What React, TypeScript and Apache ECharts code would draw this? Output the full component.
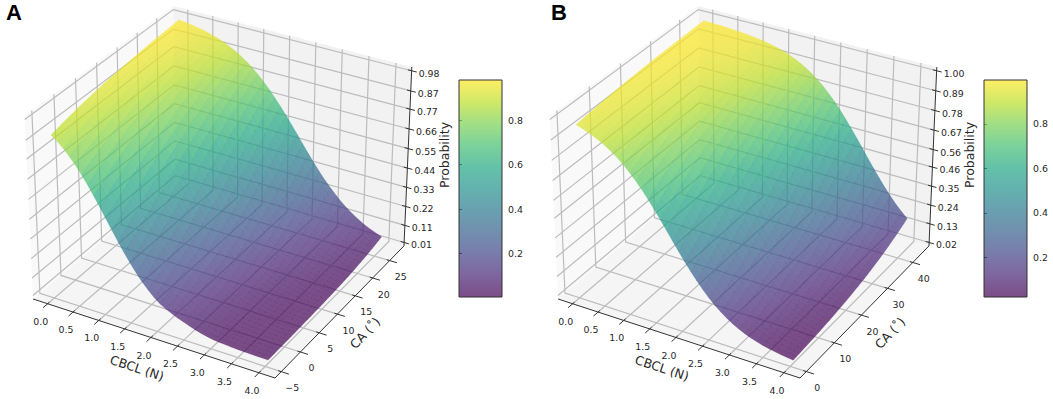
import React, { useEffect, useRef } from "react";
import * as echarts from "echarts";

const CBCL_TICKS = [0, 0.5, 1, 1.5, 2, 2.5, 3, 3.5, 4];
const CBCL_GRID = [0, 0.5, 1, 1.5, 2, 2.5, 3, 3.5, 4];

const CA_TICKS_A = [-5, 0, 5, 10, 15, 20, 25];
const CA_GRID_A = [-4.3, 0.9, 6.1, 11.4, 16.6, 21.8, 27];
const PROB_TICKS_A = ["0.01", "0.11", "0.22", "0.33", "0.44", "0.55", "0.66", "0.77", "0.87", "0.98"];
const PROB_A = [
  [0.881, 0.91, 0.933, 0.95, 0.963, 0.973, 0.98],
  [0.736, 0.797, 0.847, 0.886, 0.916, 0.939, 0.956],
  [0.512, 0.603, 0.686, 0.76, 0.82, 0.868, 0.905],
  [0.284, 0.37, 0.465, 0.562, 0.655, 0.738, 0.806],
  [0.13, 0.185, 0.256, 0.343, 0.442, 0.546, 0.646],
  [0.065, 0.09, 0.125, 0.175, 0.248, 0.339, 0.444],
  [0.024, 0.035, 0.051, 0.079, 0.121, 0.18, 0.259],
  [0.013, 0.016, 0.023, 0.034, 0.054, 0.086, 0.133],
  [0.01, 0.011, 0.013, 0.017, 0.024, 0.039, 0.063],
];

const CA_TICKS_B = [0, 10, 20, 30, 40];
const CA_GRID_B = [1, 8.1, 15.1, 22.2, 29.3, 36.3, 43.4];
const PROB_TICKS_B = ["0.02", "0.13", "0.24", "0.35", "0.46", "0.56", "0.67", "0.78", "0.89", "1.00"];
const PROB_B = [
  [0.953, 0.968, 0.979, 0.986, 0.991, 0.994, 0.996],
  [0.893, 0.927, 0.951, 0.967, 0.978, 0.985, 0.99],
  [0.777, 0.841, 0.889, 0.924, 0.949, 0.966, 0.977],
  [0.593, 0.688, 0.77, 0.835, 0.885, 0.921, 0.947],
  [0.378, 0.479, 0.582, 0.679, 0.763, 0.83, 0.881],
  [0.202, 0.277, 0.368, 0.469, 0.572, 0.67, 0.755],
  [0.095, 0.138, 0.195, 0.269, 0.358, 0.458, 0.562],
  [0.042, 0.063, 0.092, 0.133, 0.189, 0.261, 0.349],
  [0.018, 0.027, 0.04, 0.06, 0.088, 0.128, 0.182],
];

const COLORBAR_TICKS = [0.2, 0.4, 0.6, 0.8];
const VIRIDIS = ["#440154", "#482475", "#414487", "#355f8d", "#2a788e", "#21918c", "#22a884", "#44bf70", "#7ad151", "#bddf26", "#fde725"];

const FONT = '"DejaVu Sans"';
const TEXT = "#262626";
const ALPHA = 0.7;
const FACES = 36;
const TICK_SIZE = 9.4;

const PANELS = [
  {
    name: "A", dx: 0, caTicks: CA_TICKS_A, caGrid: CA_GRID_A, probTicks: PROB_TICKS_A, prob: PROB_A,
    caLim: [-6.6, 29.3], zLim: [-0.0102, 1.0002], cbar: [0.005, 0.98], cbarBox: { left: 459, top: 80, width: 43, height: 217 },
  },
  {
    name: "B", dx: 525, caTicks: CA_TICKS_B, caGrid: CA_GRID_B, probTicks: PROB_TICKS_B, prob: PROB_B,
    caLim: [-2.2, 46.6], zLim: [-0.0004, 1.0204], cbar: [0.022, 0.997], cbarBox: { left: 984, top: 80, width: 43, height: 217 },
  },
];
const X_LIM = [-0.29, 4.29];

// matplotlib's default 3D camera (elev 30, azim -60, dist 10, box aspect 4:4:3)
const EL = (30 * Math.PI) / 180;
const AZ = (-60 * Math.PI) / 180;
const D = [Math.cos(EL) * Math.cos(AZ), Math.cos(EL) * Math.sin(AZ), Math.sin(EL)];
const RN = Math.hypot(D[1], D[0]);
const RIGHT = [-D[1] / RN, D[0] / RN, 0];
const UP = [D[1] * RIGHT[2] - D[2] * RIGHT[1], D[2] * RIGHT[0] - D[0] * RIGHT[2], D[0] * RIGHT[1] - D[1] * RIGHT[0]];
const dot = (a: number[], b: number[]) => a[0] * b[0] + a[1] * b[1] + a[2] * b[2];
const SX = 2426, SY = 2438, OX = 221.8, OY = 183.4;
const BOX = [1.1429, 1.1429, 0.8571];

function project(dx: number, u: number, v: number, w: number) {
  const p = [(u - 0.5) * BOX[0], (v - 0.5) * BOX[1], (w - 0.5) * BOX[2]];
  const depth = 10 - dot(D, p);
  return [OX + dx + (SX * dot(RIGHT, p)) / depth, OY - (SY * dot(UP, p)) / depth];
}

const norm = (v: number, lim: number[]) => (v - lim[0]) / (lim[1] - lim[0]);
const logit = (p: number) => Math.log(p / (1 - p));
const logistic = (l: number) => 1 / (1 + Math.exp(-l));

function sample(table: number[][], fx: number, fy: number) {
  const i = Math.min(Math.floor(fx), table.length - 2);
  const j = Math.min(Math.floor(fy), table[0].length - 2);
  const a = fx - i, b = fy - j;
  const l = (1 - a) * ((1 - b) * logit(table[i][j]) + b * logit(table[i][j + 1])) +
    a * ((1 - b) * logit(table[i + 1][j]) + b * logit(table[i + 1][j + 1]));
  return logistic(l);
}

function rampRgb(t: number) {
  const c = Math.max(0, Math.min(1, t)) * (VIRIDIS.length - 1);
  const i = Math.min(Math.floor(c), VIRIDIS.length - 2);
  const f = c - i;
  const h = (s: string, k: number) => parseInt(s.slice(1 + 2 * k, 3 + 2 * k), 16);
  return [0, 1, 2].map((k) => Math.round(h(VIRIDIS[i], k) * (1 - f) + h(VIRIDIS[i + 1], k) * f));
}

function line(api: any, pts: number[][], stroke: string, lineWidth: number) {
  return { type: "polyline", shape: { points: pts.map((p) => api.coord(p)) }, style: { fill: "none", stroke, lineWidth }, silent: true };
}
function label(api: any, pos: number[], text: string, size: number, align = "center", rotation = 0) {
  const [x, y] = api.coord(pos);
  return {
    type: "text", x, y, rotation, silent: true,
    style: { text, fill: TEXT, font: `${size}px ${FONT}`, align, textAlign: align, verticalAlign: "middle", textVerticalAlign: "middle", textBaseline: "middle" },
  };
}

function frameSeries(panel: any) {
  const P = (u: number, v: number, w: number) => project(panel.dx, u, v, w);
  return {
    type: "custom", coordinateSystem: "cartesian2d", xAxisIndex: 0, yAxisIndex: 0, z: 1, silent: true, clip: false, data: [[0, 0]],
    renderItem: (_: any, api: any) => {
      const pane = (pts: number[][], fill: string) => ({ type: "polygon", shape: { points: pts.map((p) => api.coord(p)) }, style: { fill } });
      const children: any[] = [
        pane([P(0, 0, 0), P(1, 0, 0), P(1, 1, 0), P(0, 1, 0)], "#f5f5f5"),
        pane([P(0, 0, 0), P(0, 1, 0), P(0, 1, 1), P(0, 0, 1)], "#f9f9f9"),
        pane([P(0, 1, 0), P(1, 1, 0), P(1, 1, 1), P(0, 1, 1)], "#f2f2f2"),
      ];
      const GRID = "#bcbcbc";
      CBCL_TICKS.forEach((t) => {
        const u = norm(t, X_LIM);
        children.push(line(api, [P(u, 0, 0), P(u, 1, 0), P(u, 1, 1)], GRID, 1.2));
      });
      panel.caTicks.forEach((t: number) => {
        const v = norm(t, panel.caLim);
        children.push(line(api, [P(1, v, 0), P(0, v, 0), P(0, v, 1)], GRID, 1.2));
      });
      panel.probTicks.forEach((t: string) => {
        const w = norm(parseFloat(t), panel.zLim);
        children.push(line(api, [P(0, 0, w), P(0, 1, w), P(1, 1, w)], GRID, 1.2));
      });
      return { type: "group", children };
    },
  };
}

function surfaceSeries(panel: any) {
  const cells: number[][] = [];
  for (let i = 0; i < FACES; i++) for (let j = 0; j < FACES; j++) cells.push([i, j]);
  const nx = CBCL_GRID.length - 1, ny = panel.caGrid.length - 1;
  const vertex = (i: number, j: number) => {
    const fx = (i / FACES) * nx, fy = (j / FACES) * ny;
    const x = CBCL_GRID[0] + (i / FACES) * (CBCL_GRID[nx] - CBCL_GRID[0]);
    const y = panel.caGrid[0] + (j / FACES) * (panel.caGrid[ny] - panel.caGrid[0]);
    const z = sample(panel.prob, fx, fy);
    return { z, pos: project(panel.dx, norm(x, X_LIM), norm(y, panel.caLim), norm(z, panel.zLim)) };
  };
  return {
    type: "custom", coordinateSystem: "cartesian2d", xAxisIndex: 0, yAxisIndex: 0, z: 2, silent: true, clip: false, data: cells,
    renderItem: (_: any, api: any) => {
      const i = api.value(0), j = api.value(1);
      const c = [vertex(i, j), vertex(i + 1, j), vertex(i + 1, j + 1), vertex(i, j + 1)];
      const z = (c[0].z + c[1].z + c[2].z + c[3].z) / 4;
      const [r, g, b] = rampRgb(norm(z, panel.cbar));
      return {
        type: "polygon",
        shape: { points: c.map((q) => api.coord(q.pos)) },
        style: { fill: `rgba(${r},${g},${b},${ALPHA})`, stroke: `rgba(${r},${g},${b},0.3)`, lineWidth: 0.5 },
      };
    },
  };
}

function axesSeries(panel: any) {
  const P = (u: number, v: number, w: number) => project(panel.dx, u, v, w);
  return {
    type: "custom", coordinateSystem: "cartesian2d", xAxisIndex: 0, yAxisIndex: 0, z: 3, silent: true, clip: false, data: [[0, 0]],
    renderItem: (_: any, api: any) => {
      const AX = "#333333";
      const children: any[] = [
        line(api, [P(0, 0, 0), P(1, 0, 0), P(1, 1, 0), P(1, 1, 1)], AX, 1),
      ];
      CBCL_TICKS.forEach((t) => {
        const u = norm(t, X_LIM);
        children.push(line(api, [P(u, 0.012, 0), P(u, -0.03, 0)], AX, 1));
        const e = P(u, 0, 0);
        children.push(label(api, [e[0] - 7, e[1] + 17.5], t.toFixed(1), TICK_SIZE));
      });
      panel.caTicks.forEach((t: number) => {
        const v = norm(t, panel.caLim);
        children.push(line(api, [P(0.988, v, 0), P(1.03, v, 0)], AX, 1));
        const e = P(1, v, 0);
        children.push(label(api, [e[0] + 11, e[1] + 16], t < 0 ? `\u2212${-t}` : `${t}`, TICK_SIZE));
      });
      panel.probTicks.forEach((t: string) => {
        const w = norm(parseFloat(t), panel.zLim);
        children.push(line(api, [P(0.985, 1, w), P(1.02, 1, w)], AX, 1));
        const e = P(1, 1, w);
        children.push(label(api, [e[0] + 7, e[1] + 2.5], t, TICK_SIZE, "left"));
      });
      children.push(label(api, [137 + panel.dx, 368], "CBCL (N)", 12.5, "center", -0.32));
      children.push(label(api, [365 + panel.dx, 333], "CA (\u02da)", 12.5, "center", 0.82));
      children.push(label(api, [444 + panel.dx, 155], "Probability", 12.5, "center", Math.PI / 2));
      return { type: "group", children };
    },
  };
}

function colorbarSeries(panel: any, axis: number) {
  const stops = VIRIDIS.map((_, i) => ({ offset: i / (VIRIDIS.length - 1), color: VIRIDIS[VIRIDIS.length - 1 - i] }));
  return {
    type: "custom", coordinateSystem: "cartesian2d", xAxisIndex: axis, yAxisIndex: axis, z: 2, silent: true, clip: false,
    data: [[0, panel.cbar[1]]],
    renderItem: (_: any, api: any) => {
      const a = api.coord([0, panel.cbar[1]]);
      const b = api.coord([1, panel.cbar[0]]);
      const shape = { x: a[0], y: a[1], width: b[0] - a[0], height: b[1] - a[1] };
      return {
        type: "group",
        children: [
          { type: "rect", shape, style: { fill: new echarts.graphic.LinearGradient(0, 0, 0, 1, stops), opacity: ALPHA } },
          { type: "rect", shape, style: { fill: "none", stroke: "#333333", lineWidth: 1 } },
        ],
      };
    },
  };
}

function buildOption() {
  const hiddenAxis = { show: false };
  const titleStyle = { fontFamily: '"Liberation Sans"', fontWeight: "bold", fontSize: 22, color: "#000" };
  return {
    animation: false,
    backgroundColor: "#ffffff",
    title: [
      { text: "A", left: 6, top: 1, padding: 0, textStyle: titleStyle },
      { text: "B", left: 551, top: 1, padding: 0, textStyle: titleStyle },
    ],
    grid: [{ left: 0, top: 0, width: 1053, height: 399 }, ...PANELS.map((p) => p.cbarBox)],
    xAxis: [
      { type: "value", min: 0, max: 1053, ...hiddenAxis, gridIndex: 0 },
      ...PANELS.map((_, i) => ({ type: "value", min: 0, max: 1, ...hiddenAxis, gridIndex: i + 1 })),
    ],
    yAxis: [
      { type: "value", min: 0, max: 399, inverse: true, ...hiddenAxis, gridIndex: 0 },
      ...PANELS.map((p, i) => ({
        type: "value", gridIndex: i + 1, position: "right", min: p.cbar[0], max: p.cbar[1],
        splitLine: { show: false },
        axisLine: { show: false },
        axisTick: { show: true, length: 3, customValues: COLORBAR_TICKS, lineStyle: { color: "#333333" } },
        axisLabel: { show: true, margin: 6, customValues: COLORBAR_TICKS, color: TEXT, fontSize: TICK_SIZE, fontFamily: FONT, formatter: (v: number) => v.toFixed(1) },
      })),
    ],
    series: [
      ...PANELS.map(frameSeries),
      ...PANELS.map(surfaceSeries),
      ...PANELS.map(axesSeries),
      ...PANELS.map((p, i) => colorbarSeries(p, i + 1)),
    ],
  };
}

export default function App() {
  const ref = useRef<HTMLDivElement>(null);
  useEffect(() => {
    const chart = echarts.init(ref.current as HTMLDivElement, undefined, { renderer: "svg" });
    chart.setOption(buildOption() as any);
    return () => chart.dispose();
  }, []);
  return <div ref={ref} style={{ position: "fixed", left: 0, top: 0, width: 1053, height: 399 }} />;
}
